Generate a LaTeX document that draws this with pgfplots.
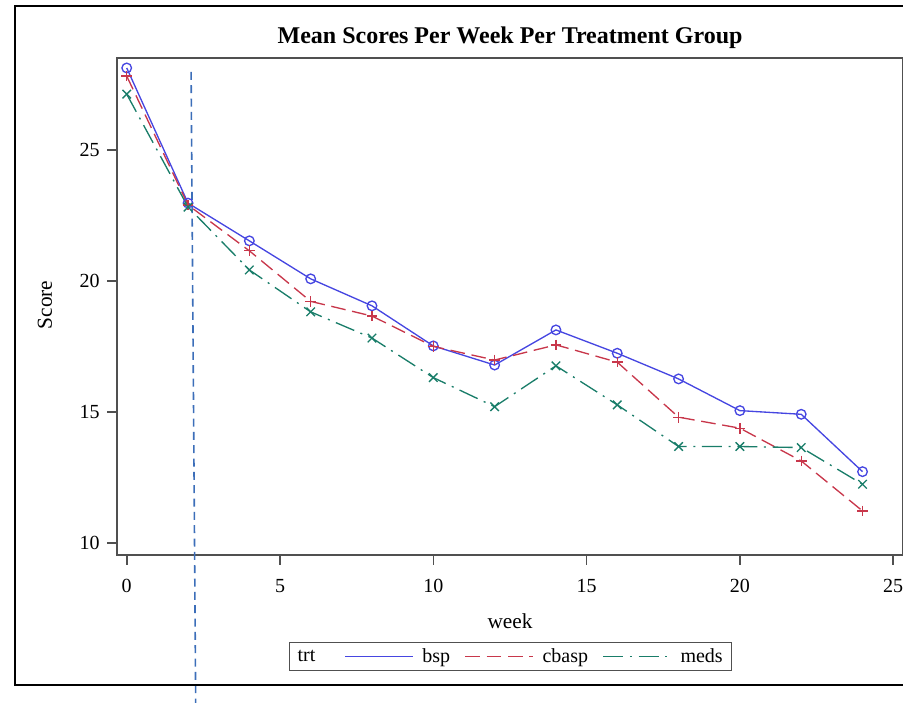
\documentclass[border=0pt]{standalone}
\usepackage{fontspec}
\setmainfont{Liberation Serif}
\usepackage{pgfplots}
\pgfplotsset{compat=1.18}
\definecolor{cbsp}{RGB}{70,70,225}
\definecolor{ccbasp}{RGB}{200,55,75}
\definecolor{cmeds}{RGB}{25,125,105}
\definecolor{cref}{RGB}{60,110,185}
\definecolor{axgray}{RGB}{80,80,80}
\begin{document}
\begin{tikzpicture}
\begin{axis}[
  scale only axis,
  width=589.5pt, height=372.75pt,
  xmin=-0.316, xmax=25.32, ymin=9.54, ymax=28.51,
  clip=false,
  axis line style={axgray, line width=1.4pt},
  xtick={0,5,10,15,20,25}, ytick={10,15,20,25},
  tick align=outside, major tick length=7.5pt,
  tick style={axgray, line width=1.2pt},
  xtick pos=bottom, ytick pos=left,
  /pgf/number format/assume math mode=true,
  tick label style={font=\fontsize{15}{18}\selectfont},
  xticklabel style={yshift=-7pt},
  yticklabel style={xshift=-2pt},
  label style={font=\fontsize{16}{19}\selectfont},
  xlabel={week}, ylabel={Score},
  xlabel style={at={(axis description cs:0.5,-0.1328)}, anchor=center},
  ylabel style={at={(axis description cs:-0.0916,0.503)}, anchor=center},
  title={Mean Scores Per Week Per Treatment Group},
  title style={font=\bfseries\fontsize{18}{21}\selectfont, at={(axis description cs:0.5,1.0121)}, anchor=base},
  legend columns=-1,
  legend style={at={(axis description cs:0.5006,-0.2042)}, anchor=center,
    draw=axgray, line width=1.2pt, font=\fontsize{15}{18}\selectfont,
    inner xsep=4.5pt, inner ysep=2.5pt,
    /tikz/every odd column/.append style={column sep=4.5pt},
    /tikz/every even column/.append style={column sep=9pt}},
  legend image code/.code={\draw[#1, line width=0.8pt] (0pt,0pt) -- (51pt,0pt);},
]
\addlegendimage{empty legend}
\addlegendentry{\kern-5pt trt\kern 11pt}
\addplot[cbsp, line width=1pt, mark=o, mark size=3.6pt, mark options={solid}] coordinates {
(0,28.13) (2,22.97) (4,21.53) (6,20.08) (8,19.05) (10,17.52) (12,16.79)
(14,18.13) (16,17.24) (18,16.26) (20,15.05) (22,14.91) (24,12.72)};
\addlegendentry{bsp}
\addplot[ccbasp, line width=1pt, dash pattern=on 11pt off 5pt, mark=+, mark size=4pt, mark options={solid}] coordinates {
(0,27.82) (2,22.90) (4,21.15) (6,19.22) (8,18.66) (10,17.50) (12,16.98)
(14,17.56) (16,16.90) (18,14.80) (20,14.38) (22,13.13) (24,11.22)};
\addlegendentry{cbasp}
\addplot[cmeds, line width=1pt, dash pattern=on 15pt off 5pt on 1.5pt off 5pt, mark=x, mark size=4.5pt, mark options={solid}] coordinates {
(0,27.13) (2,22.82) (4,20.42) (6,18.82) (8,17.82) (10,16.31) (12,15.20)
(14,16.76) (16,15.27) (18,13.68) (20,13.68) (22,13.64) (24,12.24)};
\addlegendentry{meds}
\addplot[cref, line width=1.2pt, dash pattern=on 6pt off 4pt, forget plot] coordinates {(2.10,27.98) (2.25,3.89)};
\draw[black, line width=1.1pt] (rel axis cs:1.05,1.1046) -| (rel axis cs:-0.1298,-0.2616) -- (rel axis cs:1.05,-0.2616);
\coordinate (bbsw) at (rel axis cs:-0.1489,-0.2978);
\coordinate (bbne) at (rel axis cs:1,1.1167);
\end{axis}
\pgfresetboundingbox
\useasboundingbox (bbsw) rectangle (bbne);
\end{tikzpicture}
\end{document}
